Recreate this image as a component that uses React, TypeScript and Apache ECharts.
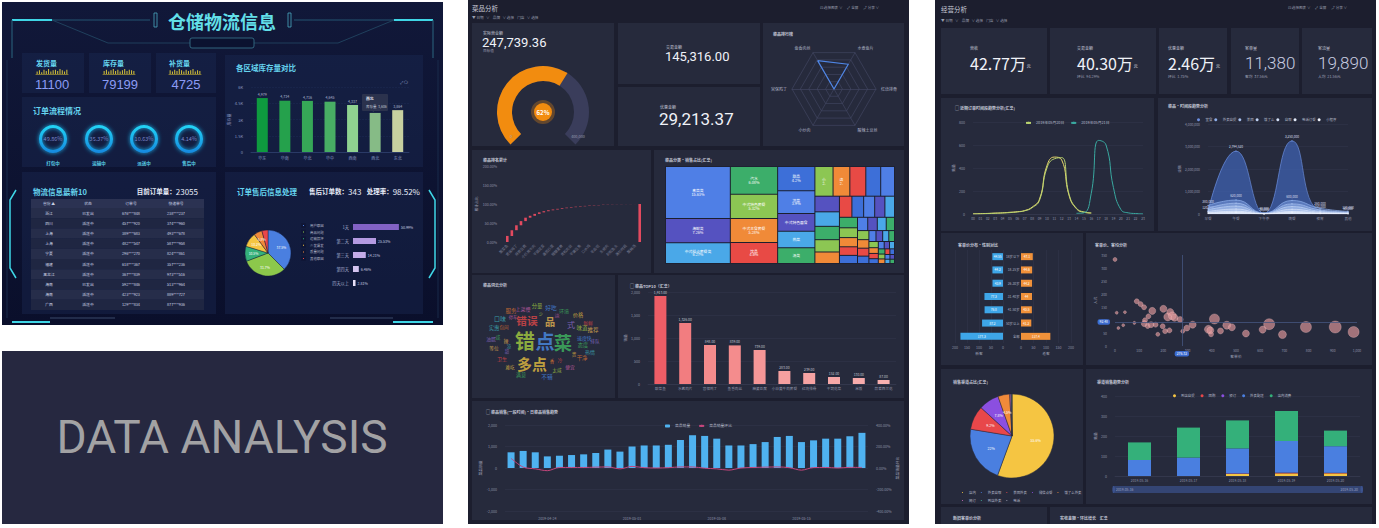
import React, { useEffect, useRef } from 'react';
import * as echarts from 'echarts';

const FONT = '"Noto Sans CJK SC", "Noto Sans", sans-serif';
const NARROW = '"Liberation Sans Narrow", "Liberation Sans", sans-serif';

// ================= Left dashboard: 仓储物流信息 =================
const kpiLabels = ['发货量', '库存量', '补货量'];
const kpiValues = ['11100', '79199', '4725'];
const sparkShip = [4, 6, 3, 7, 5, 8, 4, 6, 7, 5, 8, 6, 4, 7];
const sparkStock = [5, 7, 4, 6, 8, 5, 7, 4, 6, 8, 5, 7, 6, 5];
const sparkRefill = [6, 4, 7, 5, 8, 6, 4, 7, 5, 6, 8, 4, 6, 5];
const flowNames = ['打包中', '运输中', '派送中', '售后中'];
const flowPercents = [49.86, 35.37, 10.63, 4.14];
const regions = ['华东', '华南', '华北', '华中', '西南', '西北', '东北'];
const regionStock = [4979, 4734, 4716, 4645, 4337, 3606, 3864];
const tableHeader = ['省份 ▲', '状态', '订单号', '快递单号'];
const tableProvince = ['浙江', '四川', '上海', '上海', '宁夏', '福建', '黑龙江', '海南', '海南', '广西'];
const tableStatus = ['已发出', '派送中', '派送中', '派送中', '派送中', '派送中', '派送中', '已发出', '派送中', '派送中'];
const tableOrder = ['676***848', '457***920', '389***683', '482***547', '296***270', '618***367', '367***839', '592***846', '423***923', '129***834'];
const tableExpress = ['238***237', '374***960', '493***678', '587***958', '824***861', '357***236', '973***516', '513***964', '889***727', '877***936'];
const orderTotal = 23055;
const afterSaleCount = 343;
const handleRate = 98.52;
const reasonNames = ['用户原因', '商品问题', '运输损坏', '少发漏发', '质量问题', '其他原因'];
const reasonValues = [37.5, 31.7, 10.5, 10.2, 5.8, 4.3];
const dayNames = ['1天', '第二天', '第三天', '第四天', '四天以上'];
const dayValues = [50.99, 25.53, 14.21, 6.46, 2.81];

// ================= Middle: 菜品分析 =================
const gaugeActual = 247739.36;
const gaugeTarget = 400000;
const tradeAmount = 145316.0;
const discountAmount = 29213.37;
const radarNames = ['鱼香肉丝', '宫保鸡丁', '小炒肉', '酸辣土豆丝', '红烧排骨', '水煮鱼片'];
const radarValues = [78, 0, 0, 0, 0, 68];
const paretoNames = ['酸菜鱼', '水煮肉片', '宫保鸡丁', '鱼香肉丝', '麻婆豆腐', '回锅肉', '小炒黄牛肉', '红烧排骨', '干锅花菜', '蒜蓉西兰花', '番茄炒蛋', '酸辣土豆丝', '糖醋里脊', '京酱肉丝', '青椒肉丝', '地三鲜', '干煸豆角', '可乐鸡翅', '口水鸡', '夫妻肺片', '毛血旺', '辣子鸡', '东坡肉', '梅菜扣肉', '剁椒鱼头', '手撕包菜', '清炒时蔬', '米饭', '酸梅汤'];
const paretoShares = [16, 15, 13, 11, 9, 5, 5, 4, 3, 2.5, 2, 1.8, 1.7, 1.4, 1.3, 1.2, 1.1, 1, 0.9, 0.8, 0.7, 0.6, 0.5, 0.4, 0.3, 0.3, 0.2, 0.2, 0.1];
const treeNames = ['素菜类', '海鲜类', '中式糕点套餐类', '汽水', '中式特色套餐', '中式主食套餐', '饮品', '甜品', '凉菜', '中式特色面食', '热菜', '汤类', '小吃', '卤味',
  '粥类', '点心', '烧烤', '火锅', '主食', '酒水', '果汁', '沙拉', '西餐', '寿司', '面包', '奶茶', '咖啡', '冰品', '炸物', '蒸菜', '炖菜', '炒饭', '盖饭', '拌面', '米线', '粉丝', '饺子', '馄饨', '包子', '煎饼', '春卷', '烧卖', '汤圆', '年糕', '豆花', '凉粉', '酸奶', '布丁', '蛋挞', '月饼', '粽子', '糍粑', '麻花', '油条', '豆浆', '花卷', '馒头', '烙饼', '锅贴', '生煎'];
const treeValues = [15.63, 7.26, 6.27, 6.08, 5.32, 5.28, 4.6, 4.2, 3.9, 3.1, 2.86, 2.7, 2.5, 2.31, 2.2, 2.05, 1.9, 1.78, 1.65, 1.52,
  1.4, 1.31, 1.22, 1.15, 1.08, 1.0, 0.94, 0.88, 0.82, 0.77, 0.72, 0.68, 0.63, 0.59, 0.55, 0.51, 0.48, 0.45, 0.42, 0.39,
  0.36, 0.34, 0.31, 0.29, 0.27, 0.25, 0.23, 0.21, 0.2, 0.18, 0.17, 0.16, 0.15, 0.14, 0.13, 0.12, 0.11, 0.1, 0.1, 0.09];
const cloudWords: [string, number][] = [['错', 100], ['点', 95], ['菜', 90], ['多点', 70], ['错误', 45], ['品', 42], ['式', 30],
  ['口味', 18], ['服务', 15], ['上菜慢', 12], ['分量', 14], ['好吃', 16], ['环境', 12], ['价格', 13], ['新鲜', 11], ['推荐', 15], ['排队', 10],
  ['热情', 12], ['干净', 14], ['便宜', 11], ['太咸', 10], ['不错', 16], ['满意', 13], ['难吃', 9], ['卫生', 12], ['等位', 10], ['油腻', 11],
  ['实惠', 14], ['包间', 9], ['停车', 8], ['味道', 15], ['速度', 12], ['态度', 13], ['贵', 10], ['冷', 9], ['辣', 11], ['甜', 8],
  ['凉', 10], ['香', 9], ['淡', 12], ['少', 8], ['快', 10], ['咸', 11]];
const cloudPos = [[525, 340], [545, 341], [563, 342], [532, 363], [527, 320], [550, 321], [571, 324],
  [500, 318], [511, 311], [523, 308], [537, 306], [551, 307], [564, 310], [578, 315], [588, 322], [593, 330], [595, 341],
  [590, 351], [582, 358], [570, 366], [557, 370], [547, 376], [521, 375], [510, 367], [502, 358], [494, 348], [491, 338],
  [494, 328], [504, 327], [513, 317], [582, 328], [582, 337], [583, 345], [574, 354], [560, 360], [506, 340], [507, 351],
  [509, 346], [552, 361], [557, 314], [541, 314], [589, 338], [498, 336]];
const top10Names = ['酸菜鱼', '水煮肉片', '宫保鸡丁', '鱼香肉丝', '麻婆豆腐', '小炒黄牛肉套餐', '红烧排骨', '干锅花菜', '米饭', '蒜蓉西兰花'];
const top10Values = [1913, 1326, 848, 839, 739, 283, 239, 152, 130, 87];
const trendDates = ['2019-04-21', '2019-04-22', '2019-04-23', '2019-04-24', '2019-04-25', '2019-04-26', '2019-04-27', '2019-04-28', '2019-04-29', '2019-04-30',
  '2019-05-01', '2019-05-02', '2019-05-03', '2019-05-04', '2019-05-05', '2019-05-06', '2019-05-07', '2019-05-08', '2019-05-09', '2019-05-10',
  '2019-05-11', '2019-05-12', '2019-05-13', '2019-05-14', '2019-05-15', '2019-05-16', '2019-05-17', '2019-05-18', '2019-05-19', '2019-05-20'];
const trendSales = [730, 794, 730, 540, 571, 603, 635, 698, 857, 762, 1000, 1048, 1048, 1079, 1302, 1524, 1492, 1365, 1048, 1048, 1111, 1206, 1444, 1492, 1206, 1286, 1365, 1365, 1476, 1635];
const trendRatio = [90, 8, -8, -25, 5, 5, 5, 8, 10, -8, 15, 3, 0, 3, 10, 10, -2, -8, -20, 0, 5, 8, 10, 3, -20, 4, 5, 0, 6, 5];

// ================= Right: 经营分析 =================
const rightKpiLabels = ['营收', '交易金额', '优惠金额', '客单量', '客流量'];
const rightKpiValues = ['42.77', '40.30', '2.46', '11,380', '19,890'];
const rightKpiUnits = ['万', '万', '万', '', ''];
const rightKpiSubLabels = ['', '环比', '环比', '客均', '人均'];
const rightKpiSubValues = ['', '94.29%', '1.75%', '37.56元', '21.56元'];
const hours = ['00', '01', '02', '03', '04', '05', '06', '07', '08', '09', '10', '11', '12', '13', '14', '15', '16', '17', '18', '19', '20', '21', '22', '23'];
const lineNames = ['2019年05月19日', '2019年05月20日', '2019年05月21日'];
const lineA = [2, 3, 5, 8, 10, 15, 20, 30, 60, 130, 420, 495, 470, 160, 45, 15, 8, null, null, null, null, null, null, null];
const lineB = [1, 2, 4, 6, 9, 12, 18, 28, 55, 120, 400, 480, 490, 170, 50, 18, 10, null, null, null, null, null, null, null];
const lineC = [null, null, null, null, null, null, null, null, null, null, null, null, null, null, 6, 10, 180, 640, 600, 230, 40, 10, 4, 2];
const slotNames = ['早餐', '午餐', '下午茶', '晚餐', '夜宵', '其他'];
const areaNames = ['堂食', '外卖自提', '美团', '饿了么', '自取', '电话订餐', '小程序'];
const areaValues = [
  [120000, 2794520, 30000, 3250000, 150000, 60000],
  [380000, 620000, 40000, 600000, 260000, 120000],
  [250000, 480000, 30000, 450000, 180000, 90000],
  [180000, 350000, 20000, 330000, 120000, 60000],
  [110000, 220000, 15000, 210000, 80000, 40000],
  [60000, 120000, 8000, 110000, 45000, 20000],
  [30000, 60000, 4000, 55000, 20000, 10000],
];
const ageGroups = ['18岁以下', '18-25岁', '26-30岁', '31-40岁', '41-50岁', '50岁以上', '全部'];
const leftValues = [44.55, 44.2, 43.9, 77.3, 76.8, 87.2, 177.3];
const rightValues = [47.1, 44.6, 44.2, 44.0, 43.5, 41.2, 117.4];
const scatterData = [[0, 333, 4], [7, 128, 3], [41, 130, 3], [14, 69, 3], [34, 80, 3], [80, 89, 3], [90, 172, 5], [106, 161, 5], [120, 149, 5], [138, 114, 5],
  [124, 99, 5], [121, 86, 6], [135, 77, 5], [149, 82, 6], [168, 82, 5], [154, 135, 7], [177, 45, 4], [200, 143, 7], [197, 76, 5], [207, 57, 5],
  [218, 112, 8], [228, 131, 7], [237, 116, 8], [246, 109, 7], [225, 60, 5], [269, 102, 6], [280, 57, 4], [297, 69, 6], [321, 82, 7], [386, 64, 8],
  [394, 60, 7], [397, 45, 5], [411, 104, 10], [436, 58, 6], [462, 80, 8], [483, 72, 7], [541, 48, 7], [610, 63, 7], [637, 84, 11], [692, 44, 8],
  [789, 73, 11], [910, 73, 12], [986, 54, 11]];
const avgPrice = 276.32;
const avgCount = 92.48;
const channelNames = ['店内', '外卖自取', '美团外卖', '微信点餐', '饿了么外卖', '网订', '到店外卖', '电话'];
const channelValues = [55.6, 22.0, 9.2, 7.8, 4.5, 0.5, 0.3, 0.1];
const stackDates = ['2019-05-16', '2019-05-17', '2019-05-18', '2019-05-19', '2019-05-20'];
const stackNames = ['到店自提', '团购', '预订', '外卖配送', '店内消费'];
const stackValues = [
  [0, 0, 10, 13, 13],
  [0, 0, 2, 3, 2],
  [0, 0, 1, 1, 1],
  [80, 92, 125, 158, 133],
  [88, 150, 140, 150, 78],
];

const fmt = (v: number, d = 0) => v.toLocaleString('en-US', { minimumFractionDigits: d, maximumFractionDigits: d });

function buildOption(): any {
  const G: any[] = [];
  const rect = (x: number, y: number, w: number, h: number, fill: any, o: any = {}) =>
    G.push({ type: 'rect', silent: true, z: o.z ?? -10, shape: { x, y, width: w, height: h, r: o.r ?? 0 }, style: { fill, stroke: o.stroke ?? null, lineWidth: o.lw ?? 0 } });
  const text = (x: number, y: number, t: string, size: number, fill: string, o: any = {}) =>
    G.push({ type: 'text', silent: true, z: 60, x, y, style: { text: t, fill, fontSize: size, fontFamily: o.font ?? FONT, fontWeight: o.weight ?? 'normal', align: o.align ?? 'left', verticalAlign: o.va ?? 'middle', rich: o.rich } });
  const poly = (points: number[][], stroke: string, lw: number, z = 5) =>
    G.push({ type: 'polyline', silent: true, z, shape: { points }, style: { stroke, lineWidth: lw, fill: null } });

  const grid: any[] = [];
  const xAxis: any[] = [];
  const yAxis: any[] = [];
  const series: any[] = [];
  const legend: any[] = [];
  const addGrid = (left: number, top: number, width: number, height: number) => { grid.push({ left, top, width, height }); return grid.length - 1; };
  const addX = (o: any) => { xAxis.push(o); return xAxis.length - 1; };
  const addY = (o: any) => { yAxis.push(o); return yAxis.length - 1; };
  const lab = (o: any = {}) => ({ fontSize: 4, color: '#8e92a8', fontFamily: FONT, ...o });
  const hidden = { axisLine: { show: false }, axisTick: { show: false }, axisLabel: { show: false }, splitLine: { show: false } };
  const faintSplit = { lineStyle: { color: '#33374d', width: 0.5, type: 'solid' } };
  const legendText = (o: any = {}) => ({ fontSize: 3.8, color: '#b4b8c8', fontFamily: FONT, ...o });
  const nameStyle = { fontSize: 3.8, color: '#9a9eb0', fontFamily: FONT };

  // ---------------- LEFT DASHBOARD ----------------
  rect(2, 2, 441, 323, { type: 'linear', x: 0, y: 0, x2: 0, y2: 1, colorStops: [{ offset: 0, color: '#111839' }, { offset: 1, color: '#0a0f2b' }] }, { z: -20 });
  const cyan = '#3fd6e6';
  const dim = '#2a6680';
  poly([[12, 20], [52, 20]], cyan, 2);
  poly([[12, 20], [12, 58]], dim, 1);
  poly([[52, 20], [150, 20]], dim, 0.8);
  poly([[52, 20], [108, 43], [190, 43]], '#234a66', 0.8);
  poly([[394, 20], [433, 20]], cyan, 2);
  poly([[433, 20], [433, 58]], dim, 1);
  poly([[294, 20], [394, 20]], dim, 0.8);
  poly([[254, 43], [338, 43], [394, 20]], '#234a66', 0.8);
  rect(154, 13, 3, 14, 'none', { stroke: '#4aa8c0', lw: 0.8, z: 5 });
  rect(288, 13, 3, 14, 'none', { stroke: '#4aa8c0', lw: 0.8, z: 5 });
  rect(190, 38, 64, 10, '#0b1230', { stroke: '#3a7890', lw: 0.8, r: 2, z: 5 });
  poly([[16, 190], [10, 200], [10, 268], [16, 278]], cyan, 1.5);
  poly([[429, 190], [435, 200], [435, 268], [429, 278]], cyan, 1.5);
  poly([[12, 322], [50, 322]], cyan, 2);
  poly([[50, 318], [115, 318]], '#3a4a6a', 1);
  poly([[330, 318], [393, 318]], '#3a4a6a', 1);
  poly([[393, 322], [433, 322]], cyan, 2);
  poly([[7, 60], [7, 318]], '#1c3050', 0.8);
  poly([[438, 60], [438, 318]], '#1c3050', 0.8);

  const panelFill = 'rgba(28,44,88,0.38)';
  rect(22, 53, 62, 40, panelFill);
  rect(89, 53, 62, 40, panelFill);
  rect(156, 53, 60, 40, panelFill);
  rect(22, 97, 194, 70, panelFill);
  rect(225, 55, 198, 112, panelFill);
  rect(22, 172, 194, 142, panelFill);
  rect(225, 172, 198, 142, panelFill);

  text(222, 21, '仓储物流信息', 18, '#62dfe8', { align: 'center', weight: 'bold' });
  const kpiX = [36, 103, 169];
  const kpiCx = [52, 120, 186];
  kpiLabels.forEach((l, i) => {
    text(kpiX[i], 63, l, 7, '#66d4ef', { weight: 'bold' });
    text(kpiCx[i], 84, kpiValues[i], 13, '#8c9cf5', { align: 'center', font: NARROW });
  });
  [sparkShip, sparkStock, sparkRefill].forEach((arr, i) => {
    const g = addGrid(kpiX[i], 69, 32, 5);
    const xi = addX({ type: 'category', gridIndex: g, data: arr.map((_, k) => String(k)), axisLine: { lineStyle: { color: '#c8b030', width: 0.6 } }, axisTick: { show: false }, axisLabel: { show: false } });
    const yi = addY({ type: 'value', gridIndex: g, min: 0, max: 8, ...hidden });
    series.push({ type: 'bar', xAxisIndex: xi, yAxisIndex: yi, data: arr, barWidth: 1, silent: true, itemStyle: { color: '#d8c43a' } });
  });

  text(33, 110, '订单流程情况', 8, '#66d4ef', { weight: 'bold' });
  const ringX = [53, 99, 144, 189];
  flowPercents.forEach((p, i) => {
    series.push({
      type: 'pie', center: [ringX[i], 139], radius: [11, 14], silent: true,
      label: { show: true, position: 'center', formatter: `${p}%`, fontSize: 5.5, color: '#7d88cc', fontFamily: FONT },
      labelLine: { show: false },
      itemStyle: { color: { type: 'linear', x: 0, y: 0, x2: 0, y2: 1, colorStops: [{ offset: 0, color: '#22d6f6' }, { offset: 1, color: '#1688e0' }] }, shadowBlur: 4, shadowColor: '#1fb5f0' },
      data: [{ value: p, name: flowNames[i] }],
    });
    text(ringX[i], 163, flowNames[i], 4.5, '#5ad0e8', { align: 'center', weight: 'bold' });
  });

  text(236, 67, '各区域库存量对比', 7.5, '#66d4ef', { weight: 'bold' });
  const warehouseColors = ['#0e9a3f', '#25a14c', '#36a757', '#48ae64', '#8fd290', '#86bb86', '#c7d0a0'];
  const gW = addGrid(251, 87, 158, 65);
  const xW = addX({ type: 'category', gridIndex: gW, data: regions, axisTick: { show: false }, axisLine: { lineStyle: { color: '#2a3a66' } }, axisLabel: lab({ color: '#8a9ac0', margin: 4 }) });
  const yW = addY({ type: 'value', gridIndex: gW, min: 0, max: 6000, interval: 1500, axisLabel: lab({ color: '#8a9ac0', formatter: (v: number) => (v === 0 ? '0' : `${v / 1000}K`) }), splitLine: { lineStyle: { color: '#1c2a55', type: 'dashed', width: 0.5 } }, name: '库存量', nameLocation: 'middle', nameGap: 12, nameTextStyle: { fontSize: 4, color: '#8a9ac0' } });
  series.push({ type: 'bar', xAxisIndex: xW, yAxisIndex: yW, barWidth: 11, silent: true,
    data: regionStock.map((v, i) => ({ value: v, itemStyle: { color: warehouseColors[i] } })),
    label: { show: true, position: 'top', fontSize: 3.6, color: '#b0b8d0', distance: 2, formatter: (p: any) => fmt(p.value) } });
  rect(362, 94, 26, 17, 'rgba(44,52,78,0.95)', { z: 40, r: 1 });
  text(366, 98, regions[5], 3.8, '#e0e4f0', { weight: 'bold' });
  text(366, 106, `库存量  ${fmt(regionStock[5])}`, 3.5, '#c0c4d4');
  text(408, 82, '⤢ ⟳', 4, '#8a9ac0', { align: 'right' });

  text(33, 191, '物流信息最新10', 7.5, '#66d4ef', { weight: 'bold' });
  text(198, 191, `{a|目前订单量：}{b|${orderTotal}}`, 7, '#e8ecf8', { align: 'right', rich: { a: { fontSize: 6.5, color: '#e8ecf8', fontWeight: 'bold', fontFamily: FONT }, b: { fontSize: 8, color: '#5aa8f0', fontFamily: FONT } } });
  const colX = [49, 88, 131, 176];
  rect(31, 199, 173, 9, '#2b3252', { z: 2 });
  tableHeader.forEach((h, c) => text(colX[c], 203.5, h, 3.8, '#c8d0e4', { align: 'center' }));
  tableProvince.forEach((p, r) => {
    const y = 208 + r * 10.2;
    rect(31, y, 173, 10.2, r % 2 === 0 ? '#262d4a' : '#1f2642', { z: 2 });
    const row = [p, tableStatus[r], tableOrder[r], tableExpress[r]];
    row.forEach((t, c) => text(colX[c], y + 5.1, t, 3.8, '#d0d6e8', { align: 'center' }));
  });

  text(237, 191, '订单售后信息处理', 7.5, '#66d4ef', { weight: 'bold' });
  text(309, 191, `{a|售后订单数：}{b|${afterSaleCount}}`, 7, '#e8ecf8', { rich: { a: { fontSize: 6.5, color: '#e8ecf8', fontWeight: 'bold', fontFamily: FONT }, b: { fontSize: 8, color: '#5aa8f0', fontFamily: FONT } } });
  text(420, 191, `{a|处理率：}{b|${handleRate}%}`, 7, '#e8ecf8', { align: 'right', rich: { a: { fontSize: 6.5, color: '#e8ecf8', fontWeight: 'bold', fontFamily: FONT }, b: { fontSize: 8, color: '#5aa8f0', fontFamily: FONT } } });
  const reasonColors = ['#4a7fe0', '#8cc84b', '#34b07a', '#f5c542', '#f08a3a', '#e8474a'];
  series.push({ type: 'pie', center: [268, 253], radius: 23, startAngle: 90, silent: true,
    data: reasonNames.map((n, i) => ({ name: n, value: reasonValues[i], itemStyle: { color: reasonColors[i] } })),
    label: { show: true, position: 'inside', fontSize: 3.4, color: '#fff', formatter: '{c}%', fontFamily: FONT },
    itemStyle: { borderColor: '#0f1636', borderWidth: 0.4 } });
  legend.push({ data: reasonNames, orient: 'vertical', left: 296, top: 218, itemWidth: 3, itemHeight: 3, itemGap: 1.6, icon: 'rect', selectedMode: false, textStyle: legendText({ fontSize: 3.4 }) });
  const dayColors = ['#8262c4', '#b49ae0', '#c4ace8', '#d4c4f0', '#e8e0f8'];
  const gD = addGrid(353, 220, 90, 70);
  const xD = addX({ type: 'value', gridIndex: gD, min: 0, max: 100, ...hidden });
  const yD = addY({ type: 'category', gridIndex: gD, data: dayNames, inverse: true, axisLine: { show: false }, axisTick: { show: false }, axisLabel: lab({ fontSize: 4.2, color: '#a0a8c8', margin: 4 }) });
  series.push({ type: 'bar', xAxisIndex: xD, yAxisIndex: yD, barWidth: 6, silent: true,
    data: dayValues.map((v, i) => ({ value: v, itemStyle: { color: dayColors[i] } })),
    label: { show: true, position: 'right', fontSize: 3.6, color: '#c8cce0', distance: 2, formatter: '{c}%' } });

  // DATA ANALYSIS card
  rect(2, 351, 441, 173, '#262840', { z: -20 });
  text(222, 437, 'DATA ANALYSIS', 46, '#a2a2a4', { align: 'center', font: 'Roboto', weight: 'normal' });

  // ---------------- MIDDLE: 菜品分析 ----------------
  const panelBg = '#1c1e2e';
  const cardBg = '#262a3c';
  const titleC = '#c4c7d6';
  rect(468, 0, 441, 524, panelBg, { z: -20 });
  [[472, 23, 142, 123], [618, 23, 142, 61], [618, 87, 142, 59], [763, 23, 141, 123], [472, 150, 179, 123], [654, 150, 250, 123],
    [472, 275, 143, 123], [618, 275, 286, 123], [472, 401, 432, 119]].forEach(c => rect(c[0], c[1], c[2], c[3], cardBg));
  text(472, 8, '菜品分析', 6.5, '#c8cad8');
  text(472, 17, '▼ 日期   ∨    品牌   ∨ 选择    门店   ∨ 选择', 3.6, '#9a9eb0');
  text(820, 7, '⊡ 选择图表 ∨      ⤢ 全屏      ⤴ 分享 ∨', 3.6, '#9a9eb0');
  text(483, 33, '实际营业额', 4, titleC);
  text(482, 42, fmt(gaugeActual, 2), 13, '#f0f2f8', { font: 'Roboto' });
  text(483, 50, '目标值', 3.6, '#9a9eb0');
  text(666, 47, '交易金额', 4, titleC);
  text(665, 56, fmt(tradeAmount, 2), 13, '#f0f2f8', { font: 'Roboto' });
  text(660, 107, '优惠金额', 4, titleC);
  text(659, 119, fmt(discountAmount, 2), 17, '#f0f2f8', { font: 'Roboto' });
  text(773, 34, '菜品排行榜', 4, titleC, { weight: 'bold' });
  text(511, 136, '0', 3.8, '#9a9eb0', { align: 'center' });
  text(578, 136, fmt(gaugeTarget), 3.8, '#9a9eb0', { align: 'center' });
  text(483, 160, '菜品排名累计', 4, titleC, { weight: 'bold' });
  text(665, 160, '菜品分类·销售占比(汇总)', 4, titleC, { weight: 'bold' });
  text(483, 285, '菜品词云分析', 4, titleC, { weight: 'bold' });
  text(630, 286, '▢ 菜品TOP10（汇总）', 4, titleC, { weight: 'bold' });
  text(486, 412, '▢ 菜品销售(一段时间)·日菜品销售趋势', 4, titleC, { weight: 'bold' });

  series.push({ type: 'gauge', center: [543, 112], radius: 46, startAngle: 225, endAngle: -45, min: 0, max: gaugeTarget, silent: true,
    progress: { show: true, width: 15, itemStyle: { color: '#f28c0f' } },
    axisLine: { lineStyle: { width: 15, color: [[1, '#3a3d5b']] } },
    axisTick: { show: false }, splitLine: { show: false }, axisLabel: { show: false }, pointer: { show: false }, anchor: { show: false }, title: { show: false },
    detail: { show: true, offsetCenter: [0, 0], formatter: () => `${Math.round((gaugeActual / gaugeTarget) * 100)}%`, fontSize: 6, fontWeight: 'bold', color: '#fff', backgroundColor: '#f28c0f', width: 18, height: 18, lineHeight: 18, borderRadius: 10, borderWidth: 3, borderColor: 'rgba(242,140,15,0.3)', fontFamily: FONT, padding: 0 },
    data: [{ value: gaugeActual }] });

  const radar = [{ center: [834, 89], radius: 42, startAngle: 120, splitNumber: 5, shape: 'polygon',
    indicator: radarNames.map(n => ({ name: n, max: 100 })), axisName: { color: '#b0b4c6', fontSize: 4, fontFamily: FONT }, nameGap: 5,
    splitLine: { show: true, lineStyle: { color: '#414560', width: 0.7 } }, splitArea: { show: false }, axisLine: { show: true, lineStyle: { color: '#414560', width: 0.7 } } }];
  series.push({ type: 'radar', radarIndex: 0, symbol: 'none', silent: true, z: 4, lineStyle: { color: '#4f86e6', width: 1.2 }, itemStyle: { color: '#4f86e6' }, data: [{ value: radarValues, name: '销量' }] });

  // pareto
  const gP = addGrid(505, 166, 137, 76);
  const pCats = [...paretoNames, '合计'];
  let acc = 0;
  const pBase: number[] = [];
  const pVis: number[] = [];
  paretoShares.forEach(s => { pBase.push(+acc.toFixed(2)); pVis.push(s); acc += s; });
  pBase.push(0);
  pVis.push(+acc.toFixed(2));
  const xP = addX({ type: 'category', gridIndex: gP, data: pCats, axisLine: { show: false }, axisTick: { show: false }, axisLabel: lab({ rotate: 45, fontSize: 3.6, interval: 1, margin: 3, color: '#767a90' }) });
  const yP = addY({ type: 'value', gridIndex: gP, min: 0, max: 200, interval: 50, axisLine: { show: false }, splitLine: { show: false }, axisLabel: lab({ fontSize: 3.6, formatter: (v: number) => `${v.toFixed(2)}%` }), name: '累计占比', nameLocation: 'middle', nameGap: 18, nameTextStyle: nameStyle });
  series.push({ type: 'bar', xAxisIndex: xP, yAxisIndex: yP, stack: 'pa', data: pBase, barWidth: 2.6, silent: true, itemStyle: { color: 'transparent' } });
  series.push({ type: 'bar', xAxisIndex: xP, yAxisIndex: yP, stack: 'pa', data: pVis, barWidth: 2.6, silent: true, itemStyle: { color: '#e34a5f' } });

  // treemap
  const treePalette = ['#4f7fe6', '#5552c0', '#4aa8e8', '#3cae6a', '#8cc653', '#f08a38', '#e84a45', '#3d6fd8'];
  series.push({ type: 'treemap', left: 665, top: 166, width: 230, height: 98, roam: false, nodeClick: false, z: 5,
    breadcrumb: { show: false }, visibleMin: 0,
    label: { show: true, position: 'inside', fontSize: 3.8, color: '#fff', fontFamily: FONT, formatter: (p: any) => `${p.name}\n${p.value}%` },
    upperLabel: { show: false },
    itemStyle: { borderWidth: 0.5, borderColor: 'rgba(20,22,36,0.3)', gapWidth: 0 },
    data: treeNames.map((n, i) => ({ name: n, value: treeValues[i], itemStyle: { color: treePalette[i % treePalette.length] }, label: { show: i < 14 } })) });

  // word cloud
  const cloudPalette = ['#a8d040', '#4a8ee8', '#40b860', '#e8c040', '#e04848', '#e8b850', '#9070d0', '#40b8c0', '#e07830', '#d060b0'];
  const gC = addGrid(480, 300, 120, 80);
  const xC = addX({ type: 'value', gridIndex: gC, min: 480, max: 600, ...hidden });
  const yC = addY({ type: 'value', gridIndex: gC, min: 300, max: 380, inverse: true, ...hidden });
  series.push({ type: 'scatter', xAxisIndex: xC, yAxisIndex: yC, symbolSize: 1, silent: true, itemStyle: { color: 'transparent' },
    data: cloudWords.map((w, i) => ({ value: cloudPos[i], label: { show: true, position: 'inside', formatter: w[0], fontSize: 3 + w[1] * 0.17, color: cloudPalette[i % cloudPalette.length], fontWeight: w[1] > 40 ? 'bold' : 'normal', fontFamily: FONT } })) });

  // top10
  const topColors = ['#ee5d66', '#f27d80', '#f48b8c', '#f48c8d', '#f59697', '#f6a0a0', '#f6a3a3', '#f7a8a8', '#f7abab', '#f8b0b0'];
  const gT = addGrid(648, 292, 248, 92);
  const xT = addX({ type: 'category', gridIndex: gT, data: top10Names, axisLine: { lineStyle: { color: '#3a3e55', width: 0.5 } }, axisTick: { show: false }, axisLabel: lab({ fontSize: 3.6, interval: 0, margin: 3 }) });
  const yT = addY({ type: 'value', gridIndex: gT, min: 0, max: 2000, interval: 500, axisLine: { show: false }, splitLine: faintSplit, axisLabel: lab({ fontSize: 3.6, formatter: (v: number) => fmt(v) }), name: '销量', nameLocation: 'middle', nameGap: 13, nameTextStyle: nameStyle });
  series.push({ type: 'bar', xAxisIndex: xT, yAxisIndex: yT, barWidth: 12, silent: true,
    data: top10Values.map((v, i) => ({ value: v, itemStyle: { color: topColors[i] } })),
    label: { show: true, position: 'top', fontSize: 3.4, color: '#c0c2cc', distance: 2, formatter: (p: any) => fmt(p.value, 2) } });

  // sales trend bar + ratio line
  const gS = addGrid(505, 425, 363, 86);
  const xS = addX({ type: 'category', gridIndex: gS, data: trendDates, axisLine: { show: false }, axisTick: { show: false }, axisLabel: lab({ fontSize: 3.6, interval: (i: number) => i % 7 === 3, margin: 6 }) });
  const yS = addY({ type: 'value', gridIndex: gS, min: -2000, max: 2000, interval: 1000, axisLine: { show: false }, splitLine: faintSplit, axisLabel: lab({ fontSize: 3.6, formatter: (v: number) => fmt(v) }), name: '菜品销量', nameLocation: 'middle', nameGap: 16, nameTextStyle: nameStyle });
  const yS2 = addY({ type: 'value', gridIndex: gS, position: 'right', min: -400, max: 400, interval: 200, axisLine: { show: false }, splitLine: { show: false }, axisLabel: lab({ fontSize: 3.6, formatter: (v: number) => `${v.toFixed(2)}%` }), name: '菜品销量环比', nameLocation: 'middle', nameGap: 22, nameTextStyle: nameStyle });
  series.push({ type: 'bar', name: '菜品销量', xAxisIndex: xS, yAxisIndex: yS, barWidth: 7, silent: true, itemStyle: { color: '#4fb2f0' }, data: trendSales });
  series.push({ type: 'line', name: '菜品销量环比', xAxisIndex: xS, yAxisIndex: yS2, smooth: 0.3, symbol: 'none', silent: true, lineStyle: { color: '#c4467c', width: 1 }, itemStyle: { color: '#c4467c' }, data: trendRatio, z: 5 });
  legend.push({ data: ['菜品销量', '菜品销量环比'], left: 660, top: 419, itemWidth: 5, itemHeight: 3, itemGap: 8, selectedMode: false, textStyle: legendText() });

  // ---------------- RIGHT: 经营分析 ----------------
  rect(935, 0, 441, 524, panelBg, { z: -20 });
  [[941, 28, 106, 66], [1050, 28, 106, 66], [1159, 28, 68, 66], [1231, 28, 68, 66], [1302, 28, 70, 66],
    [941, 98, 213, 133], [1158, 98, 214, 133], [941, 233, 142, 132], [1086, 233, 286, 132],
    [941, 369, 142, 135], [1086, 369, 286, 135], [941, 507, 106, 17], [1050, 507, 322, 17]].forEach(c => rect(c[0], c[1], c[2], c[3], cardBg));
  text(941, 9, '经营分析', 6.5, '#c8cad8');
  text(941, 20, '▼ 日期   ∨    品牌   ∨ 选择    门店   ∨ 选择', 3.6, '#9a9eb0');
  text(1288, 7, '⊡ 选择图表 ∨      ⤢ 全屏      ⤴ 分享 ∨', 3.6, '#9a9eb0');
  const kX = [970, 1077, 1168, 1245, 1318];
  rightKpiLabels.forEach((l, i) => {
    text(kX[i], 48, l, 4, titleC);
    if (rightKpiUnits[i]) {
      text(kX[i], 63, `{v|${rightKpiValues[i]}${rightKpiUnits[i]}}{u| 元}`, 16, '#f0f2f8', { rich: { v: { fontSize: 16, color: '#f0f2f8', fontFamily: FONT }, u: { fontSize: 4, color: '#c0c4d4', fontFamily: FONT, padding: [6, 0, 0, 0] } } });
    } else {
      text(kX[i], 63, rightKpiValues[i], 17, '#c8cce0', { font: 'Roboto', weight: 300 });
    }
    if (rightKpiSubLabels[i]) {
      text(kX[i], 76, `{a|${rightKpiSubLabels[i]}  }{b|${rightKpiSubValues[i]}}`, 4, '#9a9eb0', { rich: { a: { fontSize: 3.8, color: '#9a9eb0', fontFamily: FONT }, b: { fontSize: 3.8, color: i < 3 ? '#3fb39a' : '#9a9eb0', fontFamily: FONT } } });
    }
  });
  text(955, 108, '▢ 近期订单时间段趋势分析(汇总)', 4, titleC, { weight: 'bold' });
  text(1168, 106, '菜品·时间段趋势分析', 4, titleC, { weight: 'bold' });
  text(958, 245, '客单价分布·性别对比', 4, titleC, { weight: 'bold' });
  text(1095, 245, '客单价、客均分析', 4, titleC, { weight: 'bold' });
  text(953, 382, '销售渠道占比(汇总)', 4, titleC, { weight: 'bold' });
  text(1097, 382, '渠道销售趋势分析', 4, titleC, { weight: 'bold' });
  text(953, 518, '新旧客单价分析', 4, titleC, { weight: 'bold' });
  text(1060, 518, '实收金额·环比增长    汇总', 4, titleC, { weight: 'bold' });

  // line chart
  const gL = addGrid(973, 122, 170, 92);
  const xL = addX({ type: 'category', gridIndex: gL, data: hours, boundaryGap: false, axisLine: { lineStyle: { color: '#3a3e55', width: 0.5 } }, axisTick: { show: false }, axisLabel: lab({ fontSize: 3.4, interval: 0, margin: 3 }) });
  const yL = addY({ type: 'value', gridIndex: gL, min: 0, max: 800, interval: 200, axisLine: { show: false }, splitLine: faintSplit, axisLabel: lab({ fontSize: 3.6 }), name: '数量', nameLocation: 'middle', nameGap: 12, nameTextStyle: nameStyle });
  const lineColors = ['#e6d56c', '#b9d36f', '#3aa9a0'];
  [lineA, lineB, lineC].forEach((d, i) => series.push({ type: 'line', name: lineNames[i], xAxisIndex: xL, yAxisIndex: yL, smooth: true, symbol: 'none', silent: true, connectNulls: false, lineStyle: { color: lineColors[i], width: 1 }, itemStyle: { color: lineColors[i] }, data: d }));
  legend.push({ data: [lineNames[1], lineNames[2]], left: 1020, top: 116, itemWidth: 5, itemHeight: 3, itemGap: 6, selectedMode: false, textStyle: legendText() });

  // area chart
  const gA = addGrid(1208, 124, 140, 90);
  const xA = addX({ type: 'category', gridIndex: gA, data: slotNames, boundaryGap: false, axisLine: { lineStyle: { color: '#3a3e55', width: 0.5 } }, axisTick: { show: false }, axisLabel: lab({ fontSize: 3.6, interval: 0, margin: 3 }) });
  const yA = addY({ type: 'value', gridIndex: gA, min: 0, max: 4000000, interval: 1000000, axisLine: { show: false }, splitLine: faintSplit, axisLabel: lab({ fontSize: 3.4, formatter: (v: number) => fmt(v) }), name: '金额', nameLocation: 'middle', nameGap: 26, nameTextStyle: nameStyle });
  const areaLine = ['#6c8fe0', '#8fb0ec', '#a8c2f0', '#bfd2f4', '#d4e0f7', '#e4ecfa', '#f0f4fc'];
  const areaFill = ['rgba(66,104,190,0.95)', 'rgba(118,152,222,0.8)', 'rgba(146,176,232,0.78)', 'rgba(172,196,240,0.75)', 'rgba(198,214,244,0.72)', 'rgba(220,230,248,0.7)', 'rgba(236,242,252,0.7)'];
  areaNames.forEach((n, i) => series.push({ type: 'line', name: n, xAxisIndex: xA, yAxisIndex: yA, smooth: true, symbol: 'circle', symbolSize: 1.2, silent: true,
    lineStyle: { color: areaLine[i], width: 0.7 }, itemStyle: { color: areaLine[i] }, areaStyle: { color: areaFill[i] }, z: 2 + i, data: areaValues[i],
    label: { show: i < 2, position: 'top', fontSize: 3.2, color: '#d8dcea', distance: 2, formatter: (p: any) => fmt(p.value) } }));
  legend.push({ data: areaNames, left: 1192, top: 113, itemWidth: 4, itemHeight: 3, itemGap: 2, icon: 'circle', selectedMode: false, textStyle: legendText({ fontSize: 3.4 }) });

  // butterfly
  const gBL = addGrid(955, 250, 48, 93);
  const gBR = addGrid(1021, 250, 50, 93);
  const xBL = addX({ type: 'value', gridIndex: gBL, inverse: true, min: 0, max: 200, interval: 50, axisLine: { show: false }, axisTick: { show: false }, splitLine: faintSplit, axisLabel: lab({ fontSize: 3.6, margin: 3 }), name: '新客', nameLocation: 'middle', nameGap: 9, nameTextStyle: nameStyle });
  const xBR = addX({ type: 'value', gridIndex: gBR, min: 0, max: 200, interval: 50, axisLine: { show: false }, axisTick: { show: false }, splitLine: faintSplit, axisLabel: lab({ fontSize: 3.6, margin: 3 }), name: '老客', nameLocation: 'middle', nameGap: 9, nameTextStyle: nameStyle });
  const yBL = addY({ type: 'category', gridIndex: gBL, data: ageGroups, inverse: true, ...hidden });
  const yBR = addY({ type: 'category', gridIndex: gBR, data: ageGroups, inverse: true, axisLine: { show: false }, axisTick: { show: false }, axisLabel: lab({ fontSize: 3.3, color: '#b0b4c4', margin: 1.5 }) });
  series.push({ type: 'bar', xAxisIndex: xBL, yAxisIndex: yBL, barWidth: 7, silent: true, itemStyle: { color: '#3ea6e8' }, data: leftValues, label: { show: true, position: 'inside', fontSize: 3.2, color: '#fff' } });
  series.push({ type: 'bar', xAxisIndex: xBR, yAxisIndex: yBR, barWidth: 7, silent: true, itemStyle: { color: '#f0913a' }, data: rightValues, label: { show: true, position: 'inside', fontSize: 3.2, color: '#fff' } });

  // scatter
  const gSc = addGrid(1115, 255, 242, 91);
  const xSc = addX({ type: 'value', gridIndex: gSc, min: 0, max: 1000, interval: 100, axisLine: { show: false }, axisTick: { show: false }, splitLine: { show: false }, axisLabel: lab({ fontSize: 3.4, margin: 3 }), name: '客单价', nameLocation: 'middle', nameGap: 9, nameTextStyle: nameStyle });
  const ySc = addY({ type: 'value', gridIndex: gSc, min: 0, max: 350, interval: 50, axisLine: { show: false }, axisTick: { show: false }, splitLine: { show: false }, axisLabel: lab({ fontSize: 3.4 }), name: '人次', nameLocation: 'middle', nameGap: 12, nameTextStyle: nameStyle });
  series.push({ type: 'scatter', xAxisIndex: xSc, yAxisIndex: ySc, silent: true, symbolSize: (d: number[]) => d[2],
    itemStyle: { color: 'rgba(226,152,156,0.82)', borderColor: 'rgba(255,205,205,0.7)', borderWidth: 0.5 }, data: scatterData,
    markLine: { silent: true, symbol: 'none', lineStyle: { color: '#45557f', type: 'solid', width: 0.8 },
      label: { show: true, position: 'start', fontSize: 3.4, color: '#fff', backgroundColor: '#3b6bd0', padding: [1, 2], borderRadius: 2, formatter: (p: any) => String(p.value) },
      data: [{ xAxis: avgPrice }, { yAxis: avgCount }] } });

  // pie
  const channelColors = ['#f5c542', '#4a7fe0', '#e8474a', '#8b4fe0', '#f08a3a', '#d070c0', '#48b0a0', '#a0a4b8'];
  series.push({ type: 'pie', center: [1012, 436], radius: 42, startAngle: 90, silent: true,
    data: channelNames.map((n, i) => ({ name: n, value: channelValues[i], itemStyle: { color: channelColors[i] } })),
    label: { show: true, position: 'inside', fontSize: 3.6, color: '#fff', fontFamily: FONT, formatter: (p: any) => (p.value >= 4 ? `${p.value}%` : '') },
    itemStyle: { borderColor: '#262a3c', borderWidth: 0.5 } });
  legend.push({ data: channelNames, left: 955, top: 485, width: 122, itemWidth: 3, itemHeight: 3, itemGap: 3, icon: 'circle', selectedMode: false, textStyle: legendText({ fontSize: 3.4 }) });

  // stacked bars
  const stackColors = ['#f5c542', '#e8474a', '#8b4fe0', '#4a7fe0', '#34b07a'];
  const gSt = addGrid(1115, 396, 245, 80);
  const xSt = addX({ type: 'category', gridIndex: gSt, data: stackDates, axisLine: { lineStyle: { color: '#3a3e55', width: 0.5 } }, axisTick: { show: false }, axisLabel: lab({ fontSize: 3.4, margin: 3 }) });
  const ySt = addY({ type: 'value', gridIndex: gSt, min: 0, max: 400, interval: 100, axisLine: { show: false }, splitLine: faintSplit, axisLabel: lab({ fontSize: 3.6 }), name: '数量', nameLocation: 'middle', nameGap: 12, nameTextStyle: nameStyle });
  stackNames.forEach((n, i) => series.push({ type: 'bar', name: n, stack: 'st', xAxisIndex: xSt, yAxisIndex: ySt, barWidth: 23, silent: true, itemStyle: { color: stackColors[i] }, data: stackValues[i] }));
  legend.push({ data: stackNames, left: 1168, top: 389, itemWidth: 3, itemHeight: 3, itemGap: 6, icon: 'circle', selectedMode: false, textStyle: legendText({ fontSize: 3.4 }) });
  text(1116, 489.5, stackDates[0], 3.4, '#9aa2c0');
  text(1358, 489.5, stackDates[stackDates.length - 1], 3.4, '#9aa2c0', { align: 'right' });

  const dataZoom = [{ type: 'slider', xAxisIndex: xSt, left: 1112, top: 486, width: 250, height: 7, start: 0, end: 100,
    showDetail: false, showDataShadow: false, brushSelect: false, moveHandleSize: 0, handleSize: '100%',
    handleStyle: { color: '#3e5490', borderColor: '#3e5490' }, backgroundColor: 'rgba(47,66,118,0.55)', fillerColor: 'rgba(70,96,160,0.35)', borderColor: 'rgba(0,0,0,0)', textStyle: { fontSize: 3 } }];

  return {
    animation: false,
    backgroundColor: '#ffffff',
    textStyle: { fontFamily: FONT },
    grid, xAxis, yAxis, series, legend, radar, dataZoom,
    graphic: { elements: G },
  };
}

export default function App() {
  const ref = useRef<HTMLDivElement>(null);
  useEffect(() => {
    if (!ref.current) return;
    const chart = echarts.init(ref.current, null, { renderer: 'svg' });
    chart.setOption(buildOption());
    return () => chart.dispose();
  }, []);
  return <div ref={ref} style={{ position: 'absolute', left: 0, top: 0, width: 1379, height: 528 }} />;
}
